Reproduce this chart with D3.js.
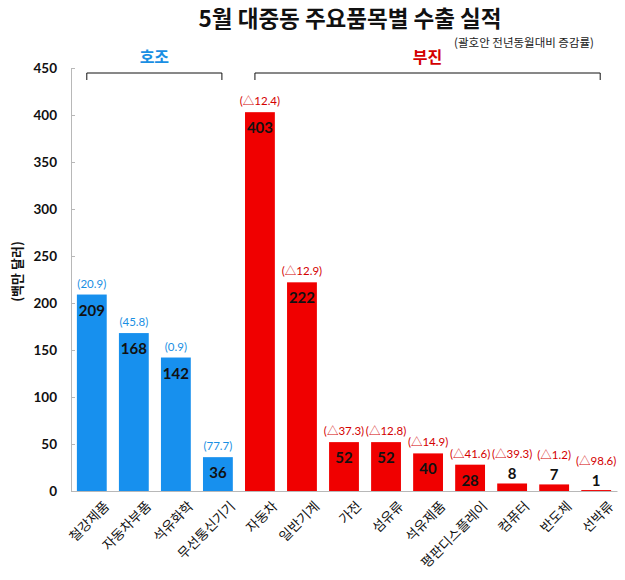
<!DOCTYPE html>
<html>
<head>
<meta charset="utf-8">
<script src="https://cdn.jsdelivr.net/npm/d3@7"></script>
<style>
  body { margin: 0; background: #fff; }
  #chart { width: 625px; height: 580px; }
</style>
</head>
<body>
<div id="chart"></div>
<script>
// 5월 대중동 주요품목별 수출 실적 (백만 달러)
const categories = ["철강제품","자동차부품","석유화학","무선통신기기","자동차","일반기계","가전","섬유류","석유제품","평판디스플레이","컴퓨터","반도체","선박류"];
const values     = [209, 168, 142, 36, 403, 222, 52, 52, 40, 28, 8, 7, 1];
const changes    = ["20.9","45.8","0.9","77.7","△12.4","△12.9","△37.3","△12.8","△14.9","△41.6","△39.3","△1.2","△98.6"];
const groupNames = ["호조","부진"];
const groupOf    = ["호조","호조","호조","호조","부진","부진","부진","부진","부진","부진","부진","부진","부진"];
const yTicks     = [0, 50, 100, 150, 200, 250, 300, 350, 400, 450];

const KR  = "'Noto Sans CJK KR', sans-serif";
const NUM = "Lato, 'Noto Sans CJK KR', sans-serif";

const width = 625, height = 580;
const margin = { top: 68, right: 8, bottom: 89, left: 71 };
const innerW = width - margin.left - margin.right;
const innerH = height - margin.top - margin.bottom;

const svg = d3.select("#chart").append("svg")
    .attr("width", width).attr("height", height);

const g = svg.append("g").attr("transform", `translate(${margin.left},${margin.top})`);

const x = d3.scaleBand().domain(categories).range([0, innerW]).paddingInner(0.29).paddingOuter(0.14);
const y = d3.scaleLinear().domain([0, 450]).range([innerH, 0]);

const colorBar  = d3.scaleOrdinal().domain(groupNames).range(["#1790ee", "#f00000"]);
const colorText = d3.scaleOrdinal().domain(groupNames).range(["#1a8fe3", "#d40000"]);

// Title
svg.append("text").attr("x", 350).attr("y", 27)
    .attr("text-anchor", "middle").style("font-family", KR)
    .style("font-size", "22.5px").style("font-weight", "bold").style("fill", "#111")
    .text("5월 대중동 주요품목별 수출 실적");
svg.append("text").attr("x", 594).attr("y", 47)
    .attr("text-anchor", "end").style("font-family", KR)
    .style("font-size", "11.5px").style("fill", "#222")
    .text("(괄호안 전년동월대비 증감률)");

// Axes
const yAxis = g.append("g")
    .call(d3.axisLeft(y).tickValues(yTicks).tickSize(-4).tickPadding(14));
yAxis.selectAll("line, path").attr("stroke", "#b8b8b8");
yAxis.selectAll("text").style("font-family", NUM).style("font-size", "13.5px")
    .style("font-weight", "bold").style("fill", "#111");

const xAxis = g.append("g").attr("transform", `translate(0,${innerH})`)
    .call(d3.axisBottom(x).tickSize(0).tickPadding(12));
xAxis.select(".domain").attr("stroke", "#b8b8b8");
xAxis.selectAll("text")
    .style("font-family", KR).style("font-size", "13.5px").style("fill", "#111")
    .attr("text-anchor", "end")
    .attr("transform", "translate(5,3) rotate(-45)")
    .attr("dy", "0.5em");

svg.append("text")
    .attr("transform", `translate(22,${margin.top + innerH / 2 - 8}) rotate(-90)`)
    .attr("text-anchor", "middle").style("font-family", KR)
    .style("font-size", "13px").style("font-weight", "bold").style("fill", "#111")
    .text("(백만 달러)");

// Bars
g.selectAll("rect.bar").data(categories).join("rect").attr("class", "bar")
    .attr("x", d => x(d))
    .attr("y", (d, i) => y(values[i]))
    .attr("width", x.bandwidth())
    .attr("height", (d, i) => innerH - y(values[i]))
    .attr("fill", (d, i) => colorBar(groupOf[i]));

const small = v => v < 20;

// Value labels
g.selectAll("text.val").data(categories).join("text").attr("class", "val")
    .attr("x", d => x(d) + x.bandwidth() / 2)
    .attr("y", (d, i) => small(values[i]) ? y(values[i]) - 4 : y(values[i]) + 21)
    .attr("text-anchor", "middle").style("font-family", NUM)
    .style("font-size", "15px").style("font-weight", "bold").style("fill", "#111")
    .text((d, i) => values[i]);

// Change labels
g.selectAll("text.chg").data(categories).join("text").attr("class", "chg")
    .attr("x", d => x(d) + x.bandwidth() / 2)
    .attr("y", (d, i) => small(values[i]) ? y(values[i]) - 25 : y(values[i]) - 7)
    .attr("text-anchor", "middle").style("font-family", NUM)
    .style("font-size", "11.5px")
    .style("fill", (d, i) => colorText(groupOf[i]))
    .text((d, i) => `(${changes[i]})`);

// Group brackets
groupNames.forEach(name => {
    const members = categories.filter((c, i) => groupOf[i] === name);
    const x0 = x(members[0]) + x.bandwidth() / 2 - 5;
    const x1 = x(members[members.length - 1]) + x.bandwidth() / 2 + 4;
    const by = 5;
    g.append("path")
        .attr("d", `M${x0},${by + 7}V${by}H${x1}V${by + 7}`)
        .attr("fill", "none").attr("stroke", "#111").attr("stroke-width", 1);
    g.append("text").attr("x", (x0 + x1) / 2).attr("y", -5)
        .attr("text-anchor", "middle").style("font-family", KR)
        .style("font-size", "16px").style("font-weight", "bold")
        .style("fill", colorText(name))
        .text(name);
});
</script>
</body>
</html>
